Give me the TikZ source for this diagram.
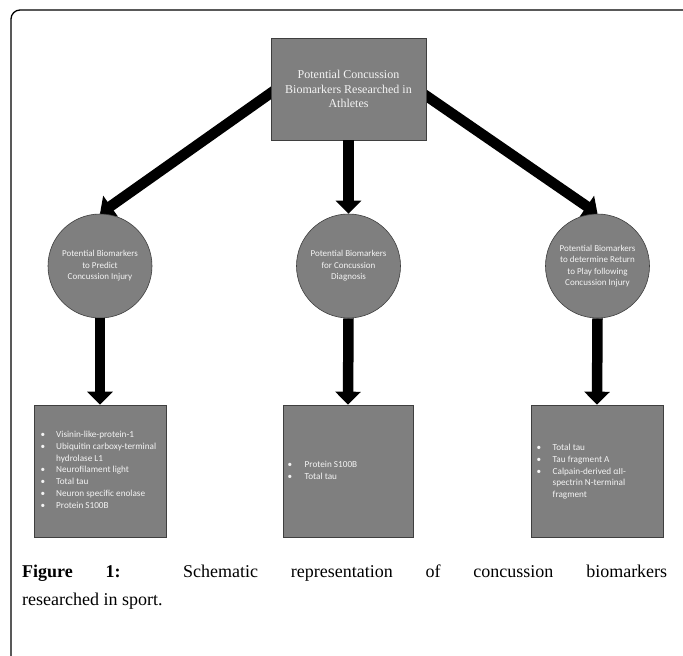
\documentclass[tikz,border=0pt]{standalone}
\usepackage{fontspec}
\setmainfont{Liberation Serif}
\newfontfamily\carl{Carlito}
\usetikzlibrary{arrows.meta}
\pgfdeclarelayer{bg}
\pgfsetlayers{bg,main}
\definecolor{gfill}{HTML}{7F7F7F}
\definecolor{gline}{HTML}{3F3F3F}
\definecolor{ltext}{HTML}{F4F4F4}
\begin{document}
\begin{tikzpicture}[x=1pt,y=-1pt,
  gbox/.style={draw=gline, fill=gfill, line width=0.6pt, inner sep=0pt},
  circ/.style={circle, gbox, minimum size=104pt, text=ltext, align=center,
    font=\carl\fontsize{9}{11.5}\selectfont},
  sq/.style={gbox, minimum width=132pt, minimum height=132pt},
  blist/.style={anchor=north west, inner sep=0pt, text=ltext,
    font=\carl\fontsize{9.2}{11.8}\selectfont},
  bigarrow/.style={line width=10.5pt, -{Triangle[width=25pt,length=13pt]}}]
\useasboundingbox (0,0) rectangle (683,656);
% frame
\draw[line width=1.3pt, rounded corners=9pt] (683,10) -- (11,10) -- (11,656);
% nodes
\node[gbox, minimum width=155pt, minimum height=102pt, text=ltext, align=center,
  font=\fontsize{12}{14.5}\selectfont] (top) at (348.5,89)
  {Potential Concussion\\Biomarkers Researched in\\Athletes};
\node[circ] (c1) at (100,266) {Potential Biomarkers\\to Predict\\Concussion Injury};
\node[circ] (c2) at (348.5,266) {Potential Biomarkers\\for Concussion\\Diagnosis};
\node[circ] (c3) at (597.5,266) {Potential Biomarkers\\to determine Return\\to Play following\\Concussion Injury};
\node[sq] (b1) at (100,471) {};
\node[sq, minimum width=130pt] (b2) at (348,471) {};
\node[sq] (b3) at (597,471) {};
\node[blist] (t1) at (40.5,429) {\begin{tabular}{@{}p{15.5pt}@{}l@{}}
\textbullet & Visinin-like-protein-1\\
\textbullet & Ubiquitin carboxy-terminal\\
 & hydrolase L1\\
\textbullet & Neurofilament light\\
\textbullet & Total tau\\
\textbullet & Neuron specific enolase\\
\textbullet & Protein S100B
\end{tabular}};
\node[blist] (t2) at (287.5,459) {\begin{tabular}{@{}p{17pt}@{}l@{}}
\textbullet & Protein S100B\\
\textbullet & Total tau
\end{tabular}};
\node[blist] (t3) at (536.5,442) {\begin{tabular}{@{}p{16pt}@{}l@{}}
\textbullet & Total tau\\
\textbullet & Tau fragment A\\
\textbullet & Calpain-derived αII-\\
 & spectrin N-terminal\\
 & fragment
\end{tabular}};
% arrows
\begin{pgfonlayer}{bg}
\fill[white] (0,0) rectangle (683,656);
\draw[bigarrow, shorten <=-8pt] (top.183) -- (c1.north);
\draw[bigarrow, shorten <=-8pt] (top.-5) -- (c3.north);
\end{pgfonlayer}
\draw[bigarrow] (top.south) -- (c2.north);
\draw[bigarrow] (c1.south) -- (b1.north);
\draw[bigarrow] (c2.south) -- (b2.north);
\draw[bigarrow] (c3.south) -- (b3.north);
% caption
\node[anchor=north west, inner sep=0pt, text width=645pt, align=justify,
  font=\fontsize{18}{28}\selectfont] (cap) at (22,564.5)
  {\textbf{Figure 1:} Schematic representation of concussion biomarkers\linebreak researched in sport.};
\end{tikzpicture}
\end{document}
